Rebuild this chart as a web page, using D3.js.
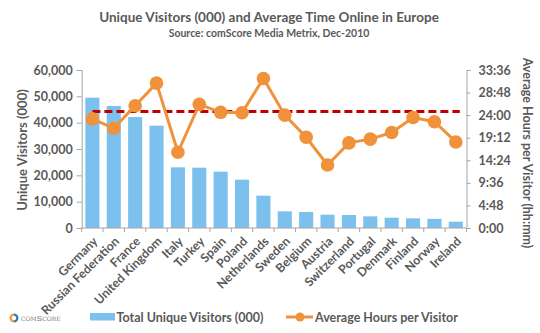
<!DOCTYPE html>
<html><head><meta charset="utf-8">
<script src="https://cdn.jsdelivr.net/npm/d3@7"></script>
<style>
html,body{margin:0;padding:0;background:#fff;}
svg{display:block;font-family:Lato, "Open Sans", sans-serif;}
</style></head>
<body><svg id="c" width="540" height="333"></svg>
<script>
const countries = ["Germany","Russian Federation","France","United Kingdom","Italy","Turkey","Spain","Poland","Netherlands","Sweden","Belgium","Austria","Switzerland","Portugal","Denmark","Finland","Norway","Ireland"];
const visitors = [49480,46330,42150,38850,23040,22900,21380,18340,12270,6330,6080,5060,4940,4430,3920,3670,3460,2400];
const hours = [23.2,21.2,26.0,30.8,16.1,26.3,24.6,24.5,31.8,24.0,19.3,13.4,18.1,18.9,20.3,23.5,22.6,18.3];
const averageHours = 24.75;
const leftTicks = [0,10000,20000,30000,40000,50000,60000];
const rightTicks = [0,4.8,9.6,14.4,19.2,24,28.8,33.6];

const svg = d3.select("#c");
const gray = "#595959", axisCol = "#a6a6a6";
const L = 81.7, R = 466.5, T = 70, B = 228;

const x = d3.scaleBand().domain(countries).range([L,R]).paddingInner(0.34).paddingOuter(0.17);
const xs = d3.scaleBand().domain(countries).range([L,R]);
const yL = d3.scaleLinear().domain([0,60000]).range([B,T]);
const yR = d3.scaleLinear().domain([0,33.6]).range([B,T]);
const fmtHM = h => { const m = Math.round(h*60); return Math.floor(m/60)+":"+String(m%60).padStart(2,"0"); };

// titles
svg.append("text").attr("x",269).attr("y",22).attr("text-anchor","middle").attr("fill",gray)
  .style("font-size","13.5px").style("font-weight","bold").text("Unique Visitors (000) and Average Time Online in Europe");
svg.append("text").attr("x",269).attr("y",37).attr("text-anchor","middle").attr("fill",gray)
  .style("font-size","10.5px").style("font-weight","bold").text("Source: comScore Media Metrix, Dec-2010");

// bars
svg.append("g").selectAll("rect").data(countries).join("rect")
  .attr("x",d=>x(d)).attr("width",x.bandwidth())
  .attr("y",(d,i)=>yL(visitors[i])).attr("height",(d,i)=>B-yL(visitors[i]))
  .attr("fill","#7cc1ee");

// left axis
const gL = svg.append("g").attr("transform",`translate(${L},0)`)
  .call(d3.axisLeft(yL).tickValues(leftTicks).tickSize(5).tickPadding(4).tickFormat(d3.format(",")));
gL.select(".domain").attr("stroke",axisCol);
gL.selectAll(".tick line").attr("stroke",axisCol);
gL.selectAll("text").attr("fill",gray).style("font-size","12.5px").style("font-weight","bold").style("font-family","Lato");

// right axis
const gR = svg.append("g").attr("transform",`translate(${R},0)`)
  .call(d3.axisRight(yR).tickValues(rightTicks).tickSize(4).tickPadding(8).tickFormat(fmtHM));
gR.select(".domain").attr("stroke",axisCol);
gR.selectAll(".tick line").attr("stroke",axisCol);
gR.selectAll("text").attr("fill",gray).style("font-size","12.5px").style("font-weight","bold").style("font-family","Lato");

// bottom axis
const gB = svg.append("g").attr("transform",`translate(0,${B})`);
gB.append("line").attr("x1",L).attr("x2",R).attr("stroke",axisCol);
gB.selectAll("line.t").data(d3.range(countries.length+1)).join("line").attr("class","t")
  .attr("x1",i=>L+i*xs.step()).attr("x2",i=>L+i*xs.step()).attr("y1",0).attr("y2",4).attr("stroke",axisCol);
gB.selectAll("text").data(countries).join("text")
  .attr("transform",d=>`translate(${xs(d)+xs.bandwidth()/2+3},${11}) rotate(-45)`)
  .attr("text-anchor","end").attr("dy","0.35em").attr("fill",gray)
  .style("font-size","12.3px").style("font-weight","bold").text(d=>d);

// axis titles
svg.append("text").attr("transform",`translate(27,150) rotate(-90)`).attr("text-anchor","middle")
  .attr("fill",gray).style("font-size","13px").style("font-weight","bold").text("Unique Visitors (000)");
svg.append("text").attr("transform",`translate(523,153) rotate(90)`).attr("text-anchor","middle")
  .attr("fill",gray).style("font-size","12.5px").style("font-weight","bold").text("Average Hours per Visitor (hh:mm)");

// average dashed line
const cx = d => xs(d)+xs.bandwidth()/2;
svg.append("line").attr("x1",cx(countries[0])).attr("x2",cx(countries[countries.length-1])+4)
  .attr("y1",yR(averageHours)).attr("y2",yR(averageHours))
  .attr("stroke","#c00000").attr("stroke-width",3).attr("stroke-dasharray","8,4");

// hours line
const orange = "#f0923b";
svg.append("path").datum(hours)
  .attr("d",d3.line().x((d,i)=>cx(countries[i])).y(d=>yR(d)))
  .attr("fill","none").attr("stroke",orange).attr("stroke-width",3);
svg.append("g").selectAll("circle").data(hours).join("circle")
  .attr("cx",(d,i)=>cx(countries[i])).attr("cy",d=>yR(d)).attr("r",6.8).attr("fill",orange);

// legend
svg.append("rect").attr("x",90).attr("y",313).attr("width",25).attr("height",7.5).attr("fill","#7cc1ee");
svg.append("text").attr("x",116.5).attr("y",322).attr("fill",gray).style("font-size","12.5px").style("font-weight","bold")
  .text("Total Unique Visitors (000)");
svg.append("line").attr("x1",286).attr("x2",313).attr("y1",317).attr("y2",317).attr("stroke",orange).attr("stroke-width",3);
svg.append("circle").attr("cx",300).attr("cy",317).attr("r",4.5).attr("fill",orange);
svg.append("text").attr("x",315).attr("y",322).attr("fill",gray).style("font-size","12.5px").style("font-weight","bold")
  .text("Average Hours per Visitor");

// comScore logo
const lg = svg.append("g").attr("transform","translate(14,318)");
lg.append("path").attr("d",d3.arc()({innerRadius:2.2,outerRadius:4.5,startAngle:Math.PI,endAngle:2*Math.PI})).attr("fill","#f0a030");
lg.append("path").attr("d",d3.arc()({innerRadius:2.2,outerRadius:4.5,startAngle:0,endAngle:Math.PI})).attr("fill","#2f7fc0");
svg.append("text").attr("x",21).attr("y",321).attr("fill","#777").style("font-size","8px")
  .style("font-variant","small-caps").style("font-family","'DejaVu Serif', serif").text("comScore");
</script></body></html>
